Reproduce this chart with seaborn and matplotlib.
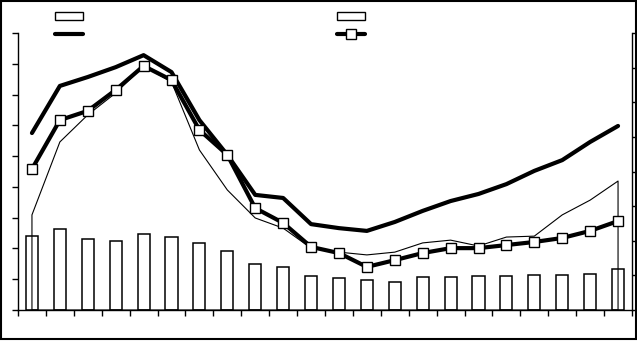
import numpy as np
import pandas as pd
import matplotlib
matplotlib.use("Agg")
import matplotlib.pyplot as plt
import seaborn as sns
from matplotlib.patches import Patch, Rectangle
from matplotlib.lines import Line2D

# ---- data (left-axis units) ----
categories = list(range(22))
bar_values = [2.40, 2.63, 2.31, 2.24, 2.47, 2.37, 2.18, 1.92, 1.49, 1.40, 1.10,
              1.04, 0.97, 0.91, 1.07, 1.07, 1.10, 1.10, 1.14, 1.14, 1.17, 1.33]
line_a = [5.75, 7.28, 7.57, 7.89, 8.28, 7.73, 6.17, 5.04, 3.74, 3.64, 2.79,
          2.66, 2.57, 2.86, 3.22, 3.54, 3.77, 4.09, 4.52, 4.87, 5.46, 5.98]
line_b = [4.58, 6.17, 6.47, 7.15, 7.93, 7.47, 5.85, 5.04, 3.31, 2.83, 2.05,
          1.85, 1.40, 1.62, 1.85, 2.01, 2.01, 2.11, 2.21, 2.34, 2.57, 2.89]
area_c = [3.09, 5.46, 6.34, 7.05, 7.93, 7.41, 5.20, 3.90, 2.99, 2.66, 2.01,
          1.88, 1.79, 1.88, 2.18, 2.27, 2.08, 2.37, 2.40, 3.09, 3.57, 4.19]
left_ticks = list(range(10))
right_ticks = list(range(9))

df = pd.DataFrame({"x": categories, "bar": bar_values, "a": line_a,
                   "b": line_b, "c": area_c})

sns.set_style("ticks")
fig = plt.figure(figsize=(6.37, 3.41), dpi=100)
ax = fig.add_axes([18/637, 31/341, 614/637, 277/341])

sns.barplot(data=df, x="x", y="bar", ax=ax, width=0.43, color="white",
            edgecolor="black", linewidth=1.1, zorder=2)
ax.fill_between(df["x"], df["c"], facecolor="none", edgecolor="black",
                linewidth=0.8, zorder=3)
sns.lineplot(data=df, x="x", y="a", ax=ax, color="black", linewidth=3.0,
             zorder=4)
sns.lineplot(data=df, x="x", y="b", ax=ax, color="black", linewidth=3.0,
             marker="s", markersize=7, markerfacecolor="white",
             markeredgecolor="black", markeredgewidth=1.0, zorder=5)

ax.set_xlim(-0.5, 21.5)
ax.set_ylim(0, 9)
ax.set_xticks(np.arange(-0.5, 22, 1))
ax.set_xticklabels([])
ax.set_yticks(left_ticks)
ax.set_yticklabels([])
ax.set_xlabel("")
ax.set_ylabel("")
ax.tick_params(axis="both", direction="out", length=4, width=1, color="black")
for s in ["top", "right"]:
    ax.spines[s].set_visible(False)
for s in ["left", "bottom"]:
    ax.spines[s].set_color("black")
    ax.spines[s].set_linewidth(1.0)

ax2 = ax.twinx()
ax2.set_ylim(0, 8)
ax2.set_yticks(right_ticks)
ax2.set_yticklabels([])
ax2.tick_params(axis="y", direction="out", length=4, width=1, color="black")
for s in ["top", "left", "bottom"]:
    ax2.spines[s].set_visible(False)
ax2.spines["right"].set_color("black")
ax2.spines["right"].set_linewidth(1.0)

# legends (labels are not visible in the reference)
h_bar = Patch(facecolor="white", edgecolor="black", linewidth=1.0)
h_a = Line2D([], [], color="black", linewidth=3.0)
h_b = Line2D([], [], color="black", linewidth=3.0, marker="s", markersize=7,
             markerfacecolor="white", markeredgecolor="black", markeredgewidth=1.0)
leg_kw = dict(loc="upper left", frameon=False, borderpad=0, handlelength=2.0,
              handleheight=0.5, handletextpad=0, labelspacing=0.22, fontsize=10)
fig.legend([h_bar, h_a], ["", ""], bbox_to_anchor=(48/637, 1 - 3/341), **leg_kw)
fig.legend([h_bar, h_b], ["", ""], bbox_to_anchor=(330/637, 1 - 3/341), **leg_kw)

fig.add_artist(Rectangle((0.5/637, 2/341), 635/637, 338/341,
                         transform=fig.transFigure, fill=False,
                         edgecolor="black", linewidth=1.5))

fig.savefig("out.png", dpi=100)
